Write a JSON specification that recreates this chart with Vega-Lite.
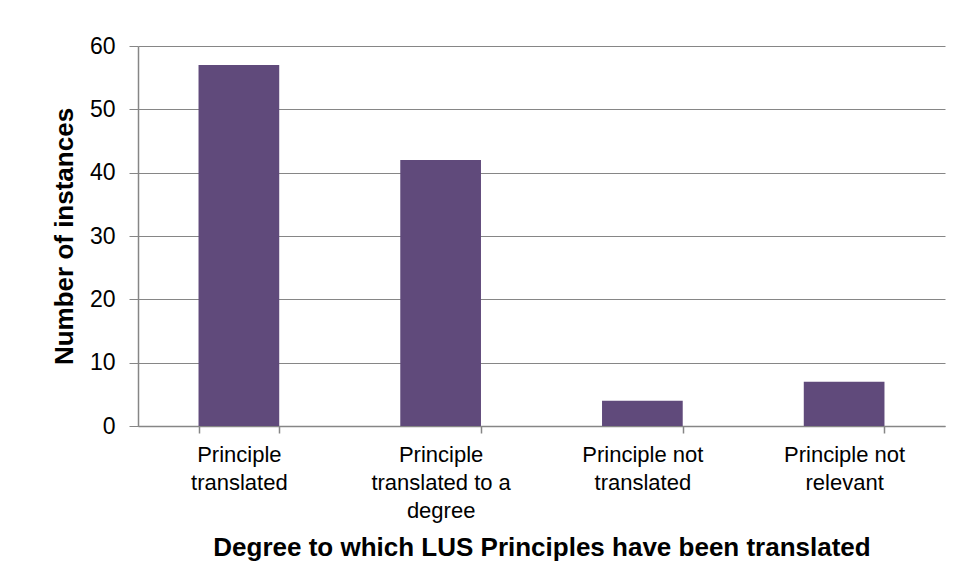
{
  "$schema": "https://vega.github.io/schema/vega-lite/v6.json",
  "width": 807,
  "height": 380,
  "autosize": {"type": "none"},
  "padding": {"left": 138, "top": 46, "right": 14, "bottom": 161},
  "background": "white",
  "config": {
    "view": {"stroke": null},
    "font": "Liberation Sans"
  },
  "data": {
    "values": [
      {"category": "Principle translated", "count": 57},
      {"category": "Principle translated to a degree", "count": 42},
      {"category": "Principle not translated", "count": 4},
      {"category": "Principle not relevant", "count": 7}
    ]
  },
  "mark": {"type": "bar", "color": "#604a7b"},
  "encoding": {
    "x": {
      "field": "category",
      "type": "nominal",
      "sort": null,
      "scale": {"paddingInner": 0.6, "paddingOuter": 0.3},
      "axis": {
        "title": "Degree to which LUS Principles have been translated",
        "titleFont": "Liberation Sans",
        "titleFontSize": 26,
        "titleFontWeight": "bold",
        "titleColor": "black",
        "titlePadding": 13,
        "labelAngle": 0,
        "labelFont": "Liberation Sans",
        "labelFontSize": 22,
        "labelColor": "black",
        "labelLineHeight": 28,
        "labelPadding": 11,
        "labelExpr": "datum.label == 'Principle translated' ? ['Principle','translated'] : datum.label == 'Principle translated to a degree' ? ['Principle','translated to a','degree'] : datum.label == 'Principle not translated' ? ['Principle not','translated'] : datum.label == 'Principle not relevant' ? ['Principle not','relevant'] : ''",
        "domainColor": "#868686",
        "domainWidth": 1.5,
        "tickColor": "#868686",
        "tickBand": "extent",
        "tickSize": 7,
        "tickWidth": 1.5
      }
    },
    "y": {
      "field": "count",
      "type": "quantitative",
      "scale": {"domain": [0, 60], "nice": false},
      "axis": {
        "title": "Number of instances",
        "titleFont": "Liberation Sans",
        "titleFontSize": 26,
        "titleFontWeight": "bold",
        "titleColor": "black",
        "titlePadding": 12,
        "values": [0, 10, 20, 30, 40, 50, 60],
        "labelFont": "Liberation Sans",
        "labelFontSize": 23,
        "labelColor": "black",
        "labelPadding": 14,
        "grid": true,
        "gridColor": "#868686",
        "gridWidth": 1,
        "domainColor": "#868686",
        "domainWidth": 1.5,
        "tickColor": "#868686",
        "tickSize": 9
      }
    }
  }
}
